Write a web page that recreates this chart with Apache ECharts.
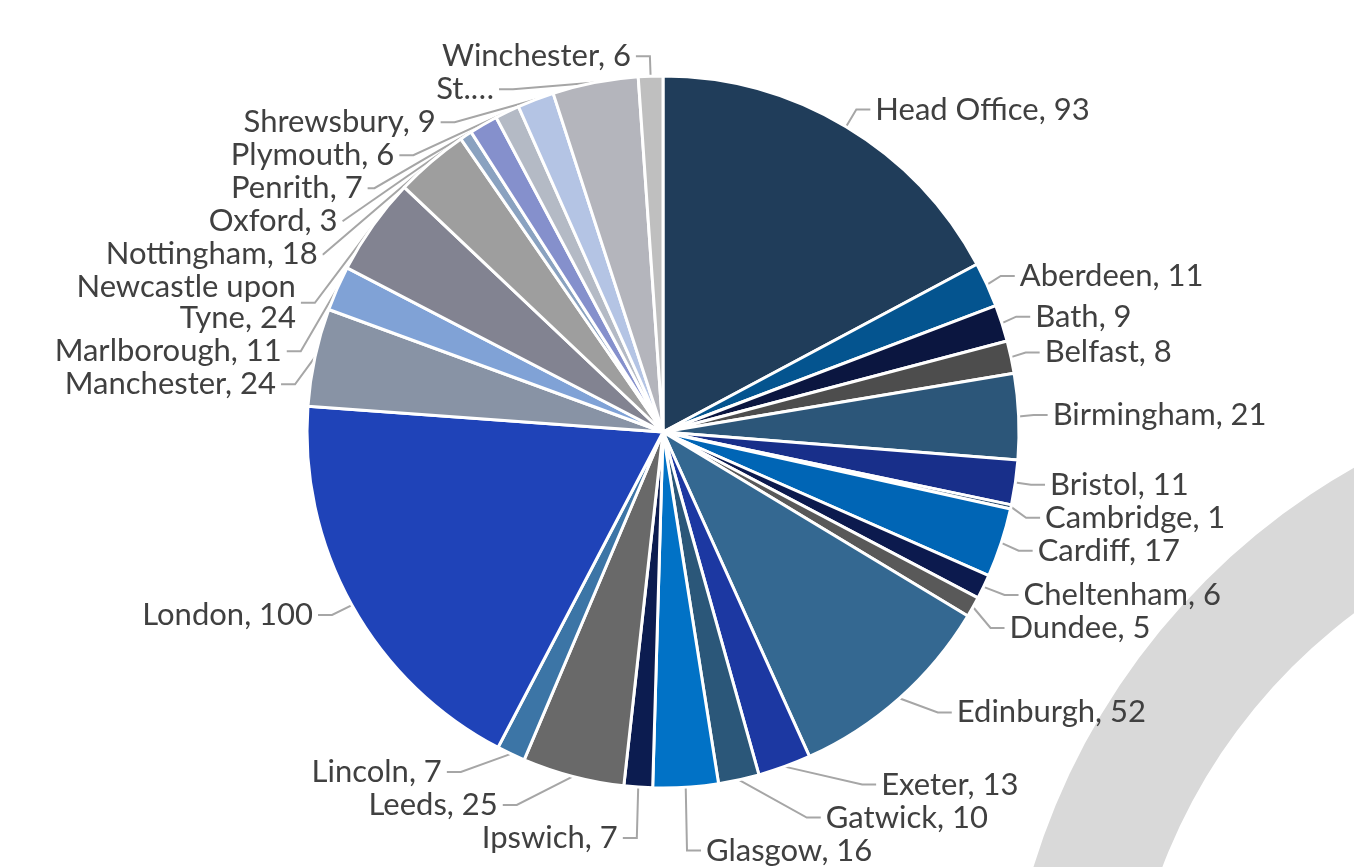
<!DOCTYPE html>
<html>
<head>
<meta charset="utf-8">
<script src="https://cdn.jsdelivr.net/npm/echarts@6/dist/echarts.min.js"></script>
<style>
  html, body { margin: 0; padding: 0; background: #fff; }
  #chart { width: 1354px; height: 867px; }
</style>
</head>
<body>
<div id="chart"></div>
<script>
// offices and headcount, clockwise from 12 o'clock
var offices = ['Head Office', 'Aberdeen', 'Bath', 'Belfast', 'Birmingham', 'Bristol', 'Cambridge',
    'Cardiff', 'Cheltenham', 'Dundee', 'Edinburgh', 'Exeter', 'Gatwick', 'Glasgow', 'Ipswich',
    'Leeds', 'Lincoln', 'London', 'Manchester', 'Marlborough', 'Newcastle upon Tyne', 'Nottingham',
    'Oxford', 'Penrith', 'Plymouth', 'Shrewsbury', 'St.…', 'Winchester'];
var counts = [93, 11, 9, 8, 21, 11, 1, 17, 6, 5, 52, 13, 10, 16, 7, 25, 7, 100, 24, 11, 24, 18, 3, 7, 6, 9, 21, 6];
var colours = ['#203d5a', '#04548f', '#0b1640', '#4d4d4d', '#2c5679', '#182f8a', '#2b4d70',
    '#0065b5', '#0c1a4e', '#595959', '#346891', '#1c38a2', '#2b5779', '#0172c6', '#0c1c50',
    '#696969', '#3c75a6', '#1f43b8', '#8893a5', '#80a2d6', '#828391', '#9e9e9e',
    '#8aa2c0', '#8590cc', '#b4bac5', '#b4c4e4', '#b4b5bc', '#bfbfbf'];

var chart = echarts.init(document.getElementById('chart'));

var pieData = [];
offices.forEach(function (name, i) {
    pieData.push({ name: name, value: counts[i], itemStyle: { color: colours[i] } });
});

var option = {
    backgroundColor: '#fff',
    animation: false,
    graphic: [{
        // grey decorative band behind the chart
        type: 'ring',
        z: -10,
        shape: { cx: 1695, cy: 1070, r: 692, r0: 570 },
        style: { fill: '#d9d9d9' }
    }],
    series: [{
        type: 'pie',
        center: [663, 432],
        radius: 356,
        startAngle: 90,
        clockwise: true,
        minShowLabelAngle: 0,
        avoidLabelOverlap: true,
        itemStyle: { borderColor: '#fff', borderWidth: 3 },
        label: {
            show: true,
            position: 'outside',
            fontFamily: 'Lato',
            fontSize: 31,
            color: '#404040',
            formatter: function (p) {
                // the long St. name is cut short in the original, value hidden
                if (p.name.indexOf('…') > -1) return p.name;
                return p.name.replace(' upon ', ' upon\n') + ', ' + p.value;
            }
        },
        labelLine: {
            show: true,
            length: 20,
            length2: 14,
            lineStyle: { color: '#a6a6a6', width: 2 }
        },
        data: pieData
    }]
};
chart.setOption(option);
</script>
</body>
</html>
